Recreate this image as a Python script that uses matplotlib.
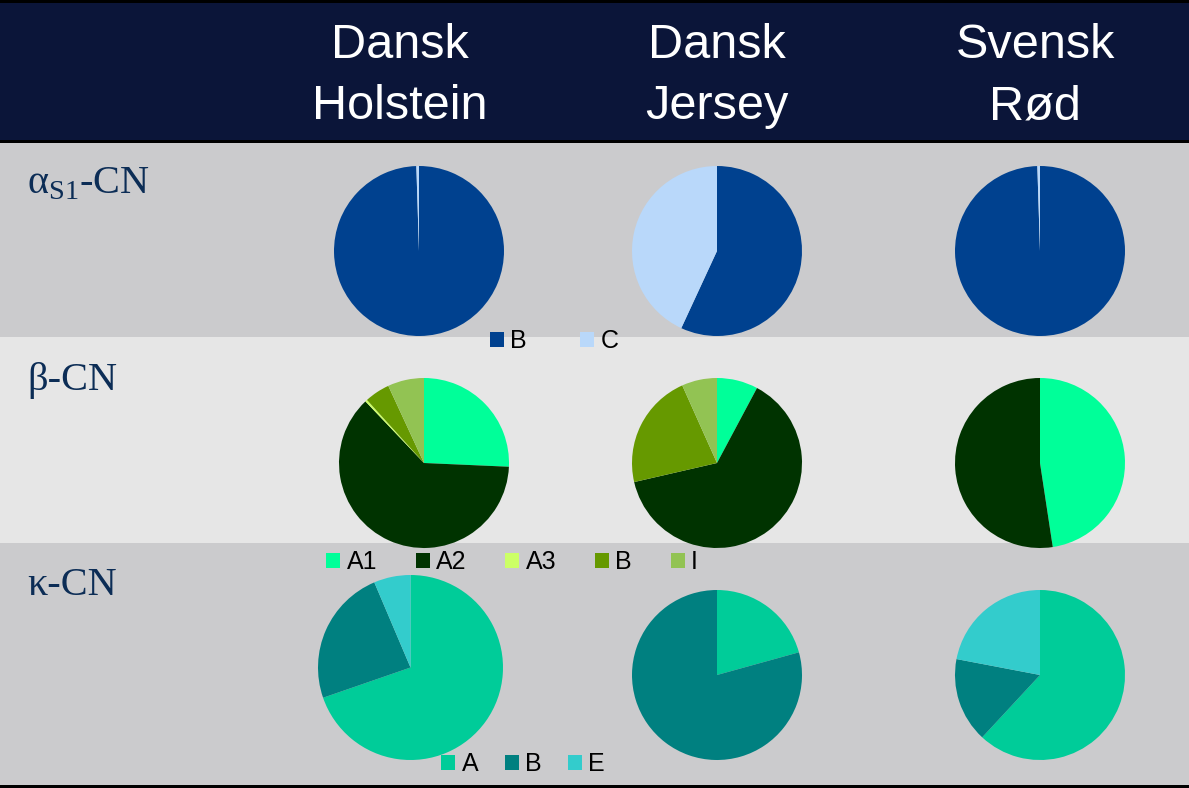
import matplotlib.pyplot as plt
from matplotlib.patches import Rectangle

# data (shares in %)
raser = ['Dansk\nHolstein', 'Dansk\nJersey', 'Svensk\nRød']

as1_labels = ['B', 'C']
as1_dh = [99.5, 0.5]
as1_dj = [56.9, 43.1]
as1_sr = [99.5, 0.5]

beta_labels = ['A1', 'A2', 'A3', 'B', 'I']
beta_dh = [25.7, 62.2, 0.4, 4.8, 6.9]
beta_dj = [7.8, 63.6, 0.0, 21.9, 6.7]
beta_sr = [47.6, 52.4, 0.0, 0.0, 0.0]

kappa_labels = ['A', 'B', 'E']
kappa_dh = [69.7, 23.9, 6.4]
kappa_dj = [20.7, 79.3, 0.0]
kappa_sr = [61.9, 16.1, 22.0]

as1_farver = ['#00418F', '#B9D8FA']
beta_farver = ['#00FF99', '#003300', '#CCFF66', '#669900', '#92C353']
kappa_farver = ['#00CC99', '#008080', '#33CCCC']

W, H = 1189, 788
fig = plt.figure(figsize=(W / 100, H / 100), dpi=100)
fig.patch.set_facecolor('#CBCBCD')


def px_rect(x0, y0, x1, y1, farve):
    fig.patches.append(Rectangle((x0 / W, 1 - y1 / H), (x1 - x0) / W, (y1 - y0) / H,
                                 transform=fig.transFigure, facecolor=farve,
                                 edgecolor='none', zorder=-10))


# baggrund
px_rect(0, 0, W, 143, '#0B1539')
px_rect(0, 0, W, 3, '#000000')
px_rect(0, 140, W, 143, '#000000')
px_rect(0, 143, W, 337, '#CBCBCD')
px_rect(0, 337, W, 543, '#E6E6E6')
px_rect(0, 543, W, 785, '#CBCBCD')
px_rect(0, 785, W, H, '#000000')

# overskrifter
hoved_x = [400, 717, 1035]
for navn, x in zip(raser, hoved_x):
    linjer = navn.split('\n')
    fig.text(x / W, 1 - 58 / H, linjer[0], color='white', fontsize=35,
             family='Liberation Sans', ha='center', va='baseline')
    fig.text(x / W, 1 - 119 / H, linjer[1], color='white', fontsize=35,
             family='Liberation Sans', ha='center', va='baseline')

# rækketitler
plt.rcParams['mathtext.fontset'] = 'custom'
plt.rcParams['mathtext.rm'] = 'Liberation Serif'
raekke_farve = '#0C2D56'
fig.text(27 / W, 1 - 193 / H, r'α$_{\mathrm{S1}}$-CN', color=raekke_farve, fontsize=29,
         family='Liberation Serif', va='baseline')
fig.text(27 / W, 1 - 390 / H, 'β-CN', color=raekke_farve, fontsize=29,
         family='Liberation Serif', va='baseline')
fig.text(27 / W, 1 - 595 / H, 'κ-CN', color=raekke_farve, fontsize=29,
         family='Liberation Serif', va='baseline')


def tegn_pie(cx, cy, r, vaerdier, farver):
    ax = fig.add_axes([(cx - r) / W, 1 - (cy + r) / H, 2 * r / W, 2 * r / H])
    kiler, _ = ax.pie(vaerdier, colors=farver, startangle=90, counterclock=False,
                      wedgeprops=dict(linewidth=0))
    ax.set_xlim(-1, 1)
    ax.set_ylim(-1, 1)
    ax.set_facecolor('none')
    return kiler


k1 = tegn_pie(419, 251, 85, as1_dh, as1_farver)
tegn_pie(717, 251, 85, as1_dj, as1_farver)
tegn_pie(1040, 251, 85, as1_sr, as1_farver)

k2 = tegn_pie(424, 463, 85, beta_dh, beta_farver)
tegn_pie(717, 463, 85, beta_dj, beta_farver)
tegn_pie(1040, 463, 85, beta_sr, beta_farver)

k3 = tegn_pie(410.5, 667.5, 92.5, kappa_dh, kappa_farver)
tegn_pie(717, 675, 85, kappa_dj, kappa_farver)
tegn_pie(1040, 675, 85, kappa_sr, kappa_farver)

# legender
faelles = dict(loc='center', frameon=False, handlelength=0.56,
               handleheight=0.56, handletextpad=0.25, borderpad=0, borderaxespad=0,
               prop={'family': 'Liberation Sans', 'size': 18})
fig.legend(k1, as1_labels, ncol=2, columnspacing=2.15,
           bbox_to_anchor=(554 / W, 1 - 341 / H), **faelles)
fig.legend(k2, beta_labels, ncol=5, columnspacing=1.55,
           bbox_to_anchor=(512 / W, 1 - 562 / H), **faelles)
fig.legend(k3, kappa_labels, ncol=3, columnspacing=1.05,
           bbox_to_anchor=(523 / W, 1 - 764 / H), **faelles)

fig.savefig('out.png', dpi=100, facecolor=fig.get_facecolor())
